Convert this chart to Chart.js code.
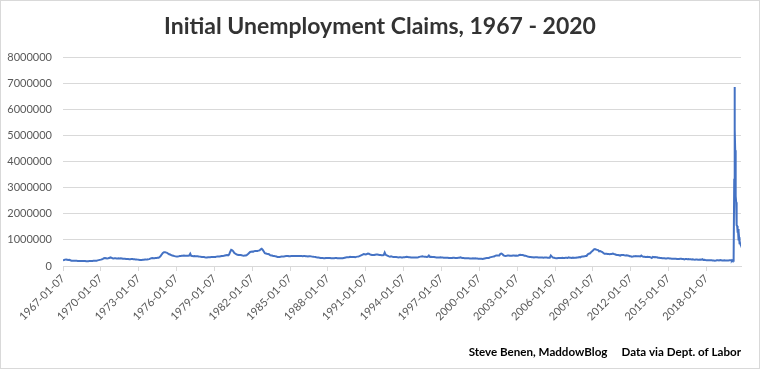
<!DOCTYPE html>
<html><head><meta charset="utf-8">
<script src="https://cdn.jsdelivr.net/npm/chart.js@4/dist/chart.umd.min.js"></script>
<style>html,body{margin:0;padding:0;background:#fff}</style>
</head><body>
<canvas id="c" width="760" height="369"></canvas>
<script>
// ---- DATA (initial claims, thousands) ----
const startDate = '1967-01-07';
const endDate = '2020-10-03';
const chartTitle = 'Initial Unemployment Claims, 1967 - 2020';
const footerText = 'Steve Benen, MaddowBlog     Data via Dept. of Labor';
const xTickLabels = ['1967-01-07','1970-01-07','1973-01-07','1976-01-07','1979-01-07','1982-01-07','1985-01-07','1988-01-07','1991-01-07','1994-01-07','1997-01-07','2000-01-07','2003-01-07','2006-01-07','2009-01-07','2012-01-07','2015-01-07','2018-01-07'];
const yTicks = [0,1000000,2000000,3000000,4000000,5000000,6000000,7000000,8000000];

// monthly values, Jan 1967 - Dec 1976
const claims1967to1976 = [
215,230,245,250,240,230,235,220,205,205,200,200,
200,200,195,195,190,190,195,195,195,190,185,185,
185,190,190,195,195,200,200,200,205,215,225,235,
245,260,275,300,310,300,290,295,305,330,320,300,
290,295,295,290,290,295,290,295,290,280,275,275,
270,265,265,260,260,265,265,260,255,250,250,245,
240,235,235,235,240,240,245,245,250,255,265,285,
300,305,300,300,305,310,315,320,345,390,450,500,
530,525,520,500,480,450,440,420,400,390,380,370,
360,360,370,380,385,390,395,400,390,390,395,390];
// monthly values, Jan 1977 - Dec 1986
const claims1977to1986 = [
400,470,390,380,375,380,375,370,370,365,360,355,
350,345,345,335,330,330,335,340,340,345,345,350,
350,345,360,365,365,365,375,385,385,390,400,410,
420,410,440,540,620,600,560,500,470,450,430,420,
420,420,410,400,395,400,405,430,460,500,540,550,
560,550,570,580,580,580,590,600,640,660,620,560,
490,480,470,460,450,420,400,400,380,380,370,365,
350,350,350,355,360,360,365,370,380,385,385,375,
375,380,380,380,385,385,385,380,380,380,380,380,
375,380,380,375,370,365,370,375,370,360,355,350];
// monthly values, Jan 1987 - Dec 1996
const claims1987to1996 = [
345,335,330,325,320,310,310,305,300,300,310,310,
310,310,305,300,300,300,300,305,305,295,300,300,
295,295,300,310,320,330,335,335,340,350,345,345,
350,345,340,350,360,365,380,400,420,440,460,450,
440,460,480,470,450,430,420,420,420,430,440,440,
430,420,420,410,410,420,520,430,410,390,370,360,
370,360,350,350,345,345,340,330,335,340,330,325,
340,340,345,350,345,340,335,330,330,330,325,325,
330,330,335,350,360,365,370,360,355,355,350,355,
400,350,355,350,345,345,340,330,330,330,330,335];
// monthly values, Jan 1997 - Dec 2006
const claims1997to2006 = [
330,330,320,320,320,320,320,310,310,305,305,315,
315,310,310,310,315,320,330,320,310,305,300,300,
295,295,295,290,290,290,295,290,295,290,285,280,
280,280,275,270,280,290,300,305,305,310,330,340,
350,360,365,390,400,400,400,400,470,480,450,410,
395,385,390,400,400,390,390,395,400,400,390,400,
395,400,420,430,420,420,410,395,395,380,360,355,
350,345,340,335,330,335,340,335,330,330,330,330,
330,320,325,325,325,320,315,315,400,360,320,315,
305,300,300,305,310,310,310,315,310,310,315,315];
// monthly values, Jan 2007 - Dec 2019
const claims2007to2019 = [
310,330,320,320,310,320,305,320,315,325,330,340,
330,355,365,365,370,385,385,440,470,480,520,560,
590,640,650,630,620,610,560,570,550,530,500,470,
470,470,460,460,455,460,460,475,460,450,430,420,
420,410,395,420,425,420,410,405,410,405,395,375,
375,360,365,375,375,380,370,370,370,365,400,370,
355,355,345,345,350,345,345,330,310,350,335,345,
335,335,320,315,310,310,300,300,295,285,290,295,
295,290,285,280,280,275,275,275,270,265,270,275,
280,270,265,255,265,265,260,265,255,255,250,260,
245,240,245,245,240,240,245,240,265,235,240,230,
225,225,225,220,220,220,215,210,205,210,220,220,
215,225,220,210,215,220,215,215,215,215,220,220];
// weekly values 2020
const weeks2020 = ['2020-01-04','2020-01-11','2020-01-18','2020-01-25','2020-02-01','2020-02-08','2020-02-15','2020-02-22','2020-02-29','2020-03-07','2020-03-14','2020-03-21','2020-03-28','2020-04-04','2020-04-11','2020-04-18','2020-04-25','2020-05-02','2020-05-09','2020-05-16','2020-05-23','2020-05-30','2020-06-06','2020-06-13','2020-06-20','2020-06-27','2020-07-04','2020-07-11','2020-07-18','2020-07-25','2020-08-01','2020-08-08','2020-08-15','2020-08-22','2020-08-29','2020-09-05','2020-09-12','2020-09-19','2020-09-26','2020-10-03'];
const claims2020 = [214,207,220,216,203,205,214,219,217,211,282,3307,6867,6615,5237,4442,3867,3176,2687,2446,2123,1897,1566,1540,1482,1413,1310,1307,1422,1187,985,1106,1104,1011,881,884,860,870,837,840];

// ---- build points ----
const DAY = 86400000;
const t0 = Date.parse(startDate + 'T00:00:00Z');
const yearsSince = s => (Date.parse(s + 'T00:00:00Z') - t0) / DAY / 365.25;
const monthly = [].concat(claims1967to1976, claims1977to1986, claims1987to1996, claims1997to2006, claims2007to2019);
const points = monthly.map((v, i) => ({x: (Date.UTC(1967, i, 7) - t0) / DAY / 365.25, y: v * 1000}));
weeks2020.forEach((d, i) => points.push({x: yearsSince(d), y: claims2020[i] * 1000}));

const FONT = 'Lato';
const frame = {
  id: 'frame',
  beforeDraw(chart) {
    const c = chart.ctx;
    c.save();
    c.fillStyle = '#fff';
    c.fillRect(0, 0, chart.width, chart.height);
    c.strokeStyle = '#d9d9d9';
    c.lineWidth = 1;
    c.strokeRect(0.5, 0.5, chart.width - 1, chart.height - 1);
    c.restore();
  }
};

new Chart(document.getElementById('c'), {
  type: 'line',
  data: {datasets: [{data: points, borderColor: '#4472C4', borderWidth: 2, pointRadius: 0, tension: 0, fill: false}]},
  options: {
    responsive: false, animation: false, devicePixelRatio: 1,
    parsing: false,
    layout: {padding: 0},
    plugins: {
      legend: {display: false}, tooltip: {enabled: false},
      title: {display: true, text: chartTitle, color: '#333333', font: {family: FONT, size: 23, weight: 'bold'}, padding: {top: 13, bottom: 17}}
    },
    scales: {
      x: {
        type: 'linear', min: 0, max: yearsSince(endDate),
        afterBuildTicks: s => { s.ticks = xTickLabels.map(l => ({value: yearsSince(l)})); },
        afterFit: s => { s.height = 103; },
        ticks: {autoSkip: false, minRotation: 45, maxRotation: 45, color: '#595959', font: {family: FONT, size: 11}, padding: 1,
          callback: (v, i) => xTickLabels[i]},
        title: {display: true, text: footerText, align: 'end', color: '#000', font: {family: FONT, size: 11.6, weight: 'bold'}, padding: {top: 0, bottom: 10}},
        grid: {drawOnChartArea: false, drawTicks: true, tickLength: 5, color: '#d9d9d9'},
        border: {display: true, color: '#d9d9d9'}
      },
      y: {
        min: 0, max: 8000000,
        afterBuildTicks: s => { s.ticks = yTicks.map(v => ({value: v})); },
        afterFit: s => { s.width = 63; },
        ticks: {color: '#595959', font: {family: FONT, size: 11}, padding: 11, callback: v => String(v)},
        grid: {color: '#d9d9d9', drawTicks: false},
        border: {display: false}
      },
      yRight: {
        type: 'linear', position: 'right', display: true,
        afterFit: s => { s.width = 19; },
        ticks: {display: false}, grid: {display: false}, border: {display: false}
      }
    }
  },
  plugins: [frame]
});
</script>
</body></html>
